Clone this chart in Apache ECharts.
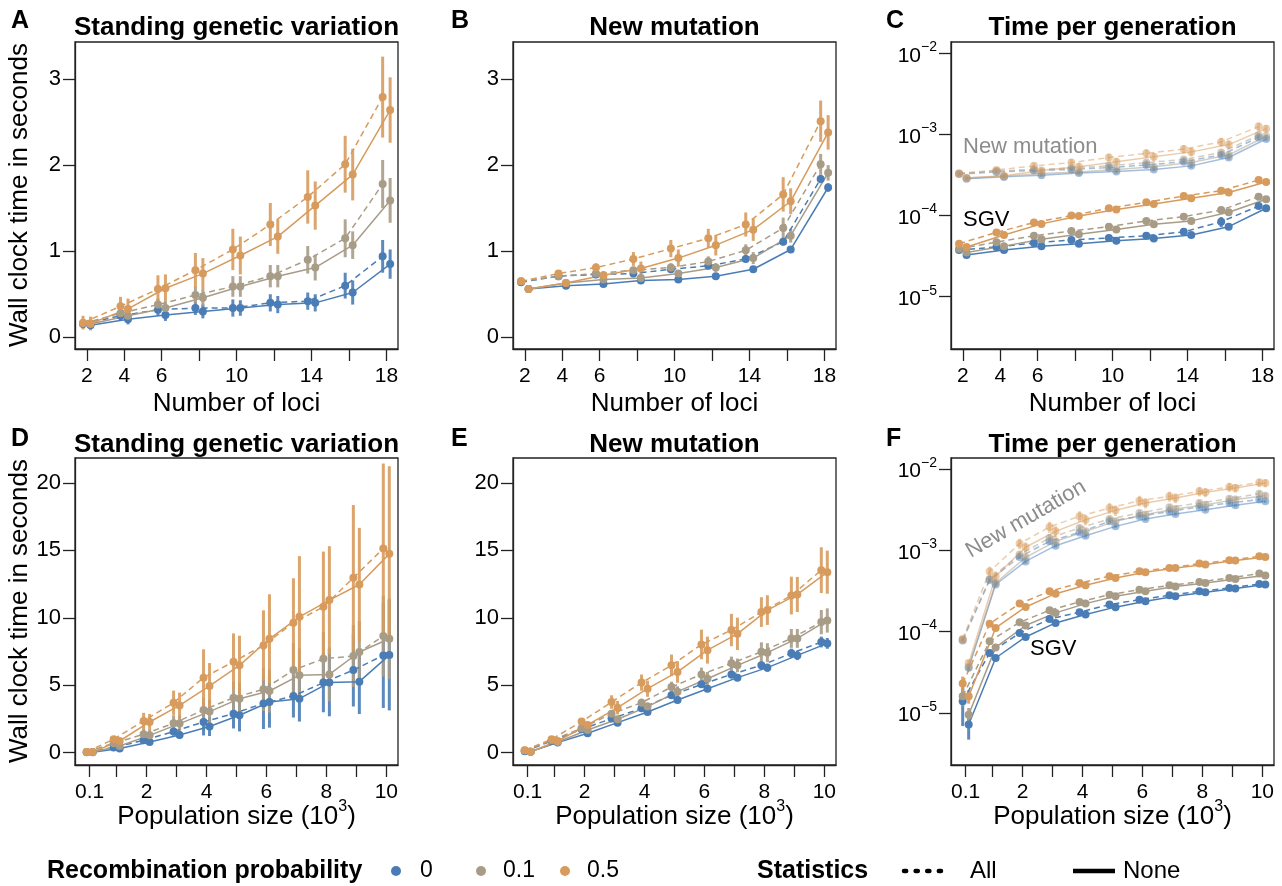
<!DOCTYPE html>
<html><head><meta charset="utf-8">
<script src="https://cdn.jsdelivr.net/npm/echarts@6/dist/echarts.min.js"></script>
<style>html,body{margin:0;padding:0;background:#fff}#chart{width:1282px;height:886px}</style>
</head><body><div id="chart"></div>
<script>
// ---------- categories / ticks ----------
const LOCI = [2,4,6,8,10,12,14,16,18];
const LOCI_TICKS = [2,4,6,8,10,12,14,16,18];
const LOCI_LABELS = [2,4,6,10,14,18];
const POP = [0.1,1,2,3,4,5,6,7,8,9,10];
const POP_TICKS = [0.1,1,2,3,4,5,6,7,8,9,10];
const POP_LABELS = [0.1,2,4,6,8,10];
const Y_TICKS_AB = [0,1,2,3];
const Y_TICKS_DE = [0,5,10,15,20];
const Y_TICKS_LOG = [1e-5,1e-4,1e-3,1e-2];
const RECOMB = ['0','0.1','0.5'];
const STATS = ['All','None'];
const TITLES = ['Standing genetic variation','New mutation','Time per generation','Standing genetic variation','New mutation','Time per generation'];
const LETTERS = ['A','B','C','D','E','F'];

// ---------- Panel A: SGV, number of loci ----------
const A_all_0  = [0.155,0.25,0.32,0.34,0.34,0.40,0.42,0.60,0.94];
const A_none_0 = [0.14,0.21,0.26,0.30,0.34,0.38,0.40,0.52,0.85];
const A_all_01 = [0.16,0.28,0.38,0.49,0.59,0.71,0.90,1.15,1.78];
const A_none_01= [0.155,0.25,0.34,0.46,0.59,0.71,0.81,1.07,1.59];
const A_all_05 = [0.17,0.36,0.56,0.78,1.02,1.31,1.63,2.01,2.79];
const A_none_05= [0.16,0.33,0.57,0.74,0.95,1.17,1.53,1.89,2.64];
const A_err_all_0  = [0.05,0.06,0.07,0.08,0.10,0.10,0.10,0.15,0.19];
const A_err_none_0 = [0.05,0.06,0.07,0.08,0.09,0.10,0.10,0.14,0.17];
const A_err_all_01 = [0.05,0.06,0.07,0.10,0.12,0.13,0.16,0.22,0.28];
const A_err_none_01= [0.05,0.06,0.07,0.10,0.12,0.13,0.15,0.16,0.26];
const A_err_all_05 = [0.08,0.11,0.16,0.20,0.24,0.25,0.31,0.33,0.47];
const A_err_none_05= [0.08,0.12,0.16,0.18,0.22,0.20,0.28,0.30,0.38];

// ---------- Panel B: new mutation, number of loci ----------
const B_all_0  = [0.64,0.71,0.73,0.74,0.79,0.83,0.91,1.11,1.84];
const B_none_0 = [0.56,0.60,0.62,0.66,0.67,0.71,0.79,1.02,1.74];
const B_all_01 = [0.65,0.71,0.74,0.78,0.81,0.88,1.01,1.27,2.01];
const B_none_01= [0.56,0.63,0.67,0.69,0.74,0.81,0.92,1.18,1.91];
const B_all_05 = [0.65,0.74,0.81,0.91,1.03,1.15,1.31,1.66,2.51];
const B_none_05= [0.56,0.63,0.72,0.80,0.92,1.07,1.25,1.58,2.38];
const B_err_all_0  = [0.02,0.02,0.02,0.03,0.03,0.03,0.04,0.04,0.05];
const B_err_none_0 = [0.02,0.02,0.02,0.02,0.02,0.02,0.03,0.03,0.05];
const B_err_all_01 = [0.02,0.03,0.04,0.04,0.05,0.06,0.07,0.12,0.12];
const B_err_none_01= [0.02,0.02,0.03,0.03,0.04,0.05,0.07,0.08,0.09];
const B_err_all_05 = [0.02,0.04,0.05,0.08,0.10,0.11,0.14,0.20,0.24];
const B_err_none_05= [0.02,0.03,0.05,0.08,0.10,0.12,0.13,0.15,0.20];

// ---------- Panel C: time per generation, number of loci ----------
const C_sgv_all_0  = [3.76e-5,4.1e-5,4.6e-5,5.0e-5,5.3e-5,5.65e-5,6.3e-5,8.4e-5,1.31e-4];
const C_sgv_none_0 = [3.26e-5,3.76e-5,4.2e-5,4.5e-5,4.9e-5,5.2e-5,5.75e-5,7.3e-5,1.23e-4];
const C_sgv_all_01 = [3.9e-5,4.7e-5,5.65e-5,6.45e-5,7.3e-5,8.6e-5,9.7e-5,1.17e-4,1.71e-4];
const C_sgv_none_01= [3.5e-5,4.2e-5,5.1e-5,5.9e-5,6.75e-5,7.8e-5,8.6e-5,1.1e-4,1.59e-4];
const C_sgv_all_05 = [4.5e-5,6.2e-5,8.2e-5,1.0e-4,1.23e-4,1.46e-4,1.74e-4,2.03e-4,2.74e-4];
const C_sgv_none_05= [4.1e-5,5.75e-5,7.9e-5,9.9e-5,1.19e-4,1.39e-4,1.63e-4,1.93e-4,2.6e-4];
const C_sgv_err_all_0  = [2e-6,3e-6,3e-6,3e-6,3e-6,3e-6,4e-6,1.2e-5,8e-6];
const C_sgv_err_none_0 = [2e-6,2e-6,3e-6,3e-6,3e-6,3e-6,3e-6,5e-6,7e-6];
const C_sgv_err_all_01 = [2e-6,3e-6,4e-6,4e-6,5e-6,5e-6,6e-6,8e-6,1.1e-5];
const C_sgv_err_none_01= [2e-6,3e-6,3e-6,4e-6,4e-6,5e-6,5e-6,7e-6,1e-5];
const C_sgv_err_all_05 = [3e-6,5e-6,6e-6,7e-6,8e-6,9e-6,1.1e-5,1.3e-5,1.6e-5];
const C_sgv_err_none_05= [3e-6,4e-6,5e-6,6e-6,7e-6,8e-6,1e-5,1.2e-5,1.5e-5];
const C_nm_all_0  = [3.25e-4,3.45e-4,3.6e-4,3.7e-4,3.9e-4,4.2e-4,4.6e-4,5.6e-4,9.2e-4];
const C_nm_none_0 = [2.85e-4,3.0e-4,3.15e-4,3.35e-4,3.5e-4,3.7e-4,4.1e-4,5.2e-4,8.8e-4];
const C_nm_all_01 = [3.3e-4,3.55e-4,3.7e-4,3.85e-4,4.1e-4,4.5e-4,4.9e-4,6.0e-4,9.8e-4];
const C_nm_none_01= [2.9e-4,3.05e-4,3.3e-4,3.45e-4,3.7e-4,4.0e-4,4.5e-4,5.6e-4,9.5e-4];
const C_nm_all_05 = [3.3e-4,3.65e-4,4.1e-4,4.5e-4,5.2e-4,5.85e-4,6.6e-4,8.1e-4,1.25e-3];
const C_nm_none_05= [2.9e-4,3.1e-4,3.6e-4,4.0e-4,4.6e-4,5.3e-4,6.1e-4,7.5e-4,1.18e-3];
const C_nm_err_all_0  = [1.5e-5,1.5e-5,2e-5,2e-5,2.5e-5,3e-5,3e-5,4e-5,6e-5];
const C_nm_err_none_0 = [1.2e-5,1.2e-5,1.5e-5,1.5e-5,2e-5,2e-5,2.5e-5,3e-5,5e-5];
const C_nm_err_all_01 = [1.5e-5,2e-5,2e-5,2.5e-5,3e-5,3.5e-5,4e-5,5e-5,7e-5];
const C_nm_err_none_01= [1.2e-5,1.5e-5,1.5e-5,2e-5,2e-5,2.5e-5,3e-5,4e-5,6e-5];
const C_nm_err_all_05 = [2e-5,3e-5,4e-5,5e-5,6e-5,7e-5,8e-5,1e-4,1.5e-4];
const C_nm_err_none_05= [1.5e-5,2.5e-5,3.5e-5,4.5e-5,5.5e-5,6.5e-5,7.5e-5,9e-5,1.3e-4];

// ---------- Panel D: SGV, population size ----------
const D_all_0  = [0.03,0.37,0.91,1.56,2.27,2.89,3.65,4.20,5.19,6.12,7.21];
const D_none_0 = [0.03,0.30,0.79,1.31,1.93,2.77,3.75,4.00,5.19,5.26,7.23];
const D_all_01 = [0.05,0.69,1.36,2.17,3.16,4.07,4.69,6.12,6.96,7.16,8.64];
const D_none_01= [0.05,0.49,1.28,2.15,3.04,4.00,4.57,5.73,5.80,7.46,8.44];
const D_all_05 = [0.05,0.99,2.35,3.70,5.56,6.74,7.95,9.63,10.81,12.96,15.14];
const D_none_05= [0.05,0.86,2.27,3.50,4.94,6.47,8.44,10.07,11.31,12.47,14.74];
const D_err_all_0  = [0.02,0.10,0.20,0.30,1.00,1.10,1.90,1.60,2.20,2.70,3.90];
const D_err_none_0 = [0.02,0.10,0.20,0.30,0.70,1.20,1.90,1.70,2.50,2.40,4.10];
const D_err_all_01 = [0.02,0.15,0.40,0.60,0.90,1.20,1.60,2.00,2.00,2.30,3.00];
const D_err_none_01= [0.02,0.15,0.40,0.60,0.90,1.20,1.60,2.00,2.00,2.30,3.00];
const D_err_all_05 = [0.02,0.20,0.60,0.90,2.10,2.10,2.60,3.30,4.10,5.40,6.30];
const D_err_none_05= [0.02,0.20,0.60,0.95,1.70,2.20,3.30,4.50,4.00,4.20,6.50];

// ---------- Panel E: new mutation, population size ----------
const E_all_0  = [0.10,0.86,1.73,2.52,3.28,4.25,5.06,5.80,6.47,7.36,8.20];
const E_none_0 = [0.07,0.74,1.43,2.22,3.01,3.90,4.74,5.56,6.30,7.21,8.10];
const E_all_01 = [0.15,0.91,1.80,2.89,3.70,4.86,5.80,6.62,7.48,8.47,9.68];
const E_none_01= [0.07,0.79,1.68,2.47,3.41,4.52,5.48,6.47,7.41,8.47,9.80];
const E_all_05 = [0.17,0.99,2.30,3.75,5.19,6.47,8.02,9.09,10.42,11.65,13.53];
const E_none_05= [0.07,0.86,2.05,3.33,4.74,5.98,7.60,8.81,10.57,11.73,13.38];
const E_err_all_0  = [0.02,0.08,0.10,0.15,0.20,0.25,0.25,0.30,0.30,0.35,0.40];
const E_err_none_0 = [0.02,0.08,0.10,0.12,0.15,0.20,0.20,0.25,0.30,0.35,0.40];
const E_err_all_01 = [0.02,0.10,0.15,0.20,0.30,0.40,0.50,0.50,0.70,0.70,0.90];
const E_err_none_01= [0.02,0.10,0.15,0.20,0.30,0.40,0.50,0.50,0.70,0.70,0.90];
const E_err_all_05 = [0.03,0.15,0.25,0.50,0.60,0.80,1.10,1.20,1.10,1.40,1.70];
const E_err_none_05= [0.03,0.15,0.25,0.50,0.60,0.80,1.00,1.20,1.10,1.30,1.60];

// ---------- Panel F: time per generation, population size ----------
const F_sgv_all_0  = [1.39e-5,5.47e-5,9.6e-5,1.43e-4,1.73e-4,2.15e-4,2.47e-4,2.8e-4,3.13e-4,3.44e-4,3.85e-4];
const F_sgv_none_0 = [7.2e-6,4.74e-5,8.6e-5,1.28e-4,1.62e-4,2.0e-4,2.36e-4,2.72e-4,3.05e-4,3.38e-4,3.79e-4];
const F_sgv_all_01 = [1.6e-5,7.6e-5,1.3e-4,1.83e-4,2.32e-4,2.85e-4,3.28e-4,3.71e-4,4.08e-4,4.57e-4,5.17e-4];
const F_sgv_none_01= [9.5e-6,6.4e-5,1.19e-4,1.7e-4,2.21e-4,2.72e-4,3.13e-4,3.6e-4,3.96e-4,4.45e-4,4.89e-4];
const F_sgv_all_05 = [2.3e-5,1.25e-4,2.21e-4,3.13e-4,3.96e-4,4.79e-4,5.52e-4,6.07e-4,6.86e-4,7.53e-4,8.43e-4];
const F_sgv_none_05= [1.6e-5,1.11e-4,2.01e-4,2.93e-4,3.71e-4,4.57e-4,5.37e-4,6.07e-4,6.67e-4,7.47e-4,8.28e-4];
const F_sgv_err_all_0  = [7e-6,3e-6,4e-6,5e-6,6e-6,7e-6,7e-6,8e-6,9e-6,9e-6,1e-5];
const F_sgv_err_none_0 = [2.5e-6,3e-6,3e-6,4e-6,5e-6,6e-6,6e-6,7e-6,8e-6,8e-6,9e-6];
const F_sgv_err_all_01 = [4e-6,4e-6,5e-6,6e-6,7e-6,8e-6,9e-6,1e-5,1.1e-5,1.2e-5,1.3e-5];
const F_sgv_err_none_01= [2e-6,4e-6,5e-6,6e-6,7e-6,8e-6,9e-6,1e-5,1.1e-5,1.2e-5,1.3e-5];
const F_sgv_err_all_05 = [5e-6,8e-6,1e-5,1.2e-5,1.5e-5,1.7e-5,2e-5,2.2e-5,2.5e-5,2.8e-5,3e-5];
const F_sgv_err_none_05= [3e-6,7e-6,1e-5,1.2e-5,1.5e-5,1.7e-5,2e-5,2.2e-5,2.5e-5,2.8e-5,3e-5];
const F_nm_all_0  = [7.8e-5,4.3e-4,8.3e-4,1.29e-3,1.66e-3,2.27e-3,2.62e-3,3.0e-3,3.41e-3,3.82e-3,4.2e-3];
const F_nm_none_0 = [3.6e-5,3.8e-4,7.3e-4,1.14e-3,1.51e-3,1.97e-3,2.43e-3,2.8e-3,3.16e-3,3.57e-3,4.0e-3];
const F_nm_all_01 = [8.0e-5,4.45e-4,8.85e-4,1.42e-3,1.88e-3,2.43e-3,2.87e-3,3.38e-3,3.82e-3,4.31e-3,4.97e-3];
const F_nm_none_01= [3.7e-5,3.96e-4,8.2e-4,1.29e-3,1.71e-3,2.27e-3,2.75e-3,3.22e-3,3.64e-3,4.2e-3,4.69e-3];
const F_nm_all_05 = [8.1e-5,5.5e-4,1.21e-3,1.94e-3,2.62e-3,3.31e-3,4.08e-3,4.61e-3,5.31e-3,6.01e-3,6.8e-3];
const F_nm_none_05= [4.1e-5,4.8e-4,1.09e-3,1.71e-3,2.38e-3,3.1e-3,3.82e-3,4.4e-3,5.16e-3,5.83e-3,6.7e-3];
const F_nm_err_all_0  = [4e-6,2.5e-5,5e-5,8e-5,1e-4,1.3e-4,1.5e-4,1.7e-4,1.9e-4,2.1e-4,2.3e-4];
const F_nm_err_none_0 = [3e-6,2e-5,4e-5,6e-5,8e-5,1e-4,1.2e-4,1.4e-4,1.6e-4,1.8e-4,2e-4];
const F_nm_err_all_01 = [4e-6,4e-5,8e-5,1.3e-4,1.7e-4,2.2e-4,2.6e-4,3e-4,3.4e-4,3.8e-4,4.4e-4];
const F_nm_err_none_01= [3e-6,3.5e-5,7e-5,1.1e-4,1.5e-4,2e-4,2.4e-4,2.8e-4,3.2e-4,3.6e-4,4e-4];
const F_nm_err_all_05 = [5e-6,8e-5,1.8e-4,3e-4,4e-4,5e-4,6e-4,6.5e-4,7e-4,7.5e-4,8e-4];
const F_nm_err_none_05= [4e-6,7e-5,1.6e-4,2.6e-4,3.5e-4,4.5e-4,5.5e-4,6e-4,6.5e-4,7e-4,7.5e-4];

// ---------- styling / layout ----------
const FONT = '"Liberation Sans", Arial, Helvetica, sans-serif';
const COL = ['#4A7DB5', '#A89C87', '#D79B5D'];
const AX = '#222';
const GW = 323, GH = 307;
const GRIDS = [[75,42],[513,42],[951,42],[75,458],[513,458],[951,458]];

const panels = [
  {x: LOCI, d: 0.2, xr: [1.37,18.62], xt: LOCI_TICKS, xl: LOCI_LABELS, log: false, yr: [-0.136,3.43], yt: Y_TICKS_AB,
   sets: [{alpha: 1, groups: [[A_all_0,A_err_all_0,A_none_0,A_err_none_0],[A_all_01,A_err_all_01,A_none_01,A_err_none_01],[A_all_05,A_err_all_05,A_none_05,A_err_none_05]]}]},
  {x: LOCI, d: 0.2, xr: [1.37,18.62], xt: LOCI_TICKS, xl: LOCI_LABELS, log: false, yr: [-0.136,3.43], yt: Y_TICKS_AB,
   sets: [{alpha: 1, groups: [[B_all_0,B_err_all_0,B_none_0,B_err_none_0],[B_all_01,B_err_all_01,B_none_01,B_err_none_01],[B_all_05,B_err_all_05,B_none_05,B_err_none_05]]}]},
  {x: LOCI, d: 0.2, xr: [1.37,18.62], xt: LOCI_TICKS, xl: LOCI_LABELS, log: true, yr: [Math.pow(10,-5.645), Math.pow(10,-1.86)], yt: Y_TICKS_LOG,
   sets: [{alpha: 0.5, groups: [[C_nm_all_0,C_nm_err_all_0,C_nm_none_0,C_nm_err_none_0],[C_nm_all_01,C_nm_err_all_01,C_nm_none_01,C_nm_err_none_01],[C_nm_all_05,C_nm_err_all_05,C_nm_none_05,C_nm_err_none_05]]},
          {alpha: 1, groups: [[C_sgv_all_0,C_sgv_err_all_0,C_sgv_none_0,C_sgv_err_none_0],[C_sgv_all_01,C_sgv_err_all_01,C_sgv_none_01,C_sgv_err_none_01],[C_sgv_all_05,C_sgv_err_all_05,C_sgv_none_05,C_sgv_err_none_05]]}]},
  {x: POP, d: 0.1, xr: [-0.39,10.39], xt: POP_TICKS, xl: POP_LABELS, log: false, yr: [-0.92,21.85], yt: Y_TICKS_DE,
   sets: [{alpha: 1, groups: [[D_all_0,D_err_all_0,D_none_0,D_err_none_0],[D_all_01,D_err_all_01,D_none_01,D_err_none_01],[D_all_05,D_err_all_05,D_none_05,D_err_none_05]]}]},
  {x: POP, d: 0.1, xr: [-0.39,10.39], xt: POP_TICKS, xl: POP_LABELS, log: false, yr: [-0.92,21.85], yt: Y_TICKS_DE,
   sets: [{alpha: 1, groups: [[E_all_0,E_err_all_0,E_none_0,E_err_none_0],[E_all_01,E_err_all_01,E_none_01,E_err_none_01],[E_all_05,E_err_all_05,E_none_05,E_err_none_05]]}]},
  {x: POP, d: 0.1, xr: [-0.39,10.39], xt: POP_TICKS, xl: POP_LABELS, log: true, yr: [Math.pow(10,-5.64), Math.pow(10,-1.865)], yt: Y_TICKS_LOG,
   sets: [{alpha: 0.5, groups: [[F_nm_all_0,F_nm_err_all_0,F_nm_none_0,F_nm_err_none_0],[F_nm_all_01,F_nm_err_all_01,F_nm_none_01,F_nm_err_none_01],[F_nm_all_05,F_nm_err_all_05,F_nm_none_05,F_nm_err_none_05]]},
          {alpha: 1, groups: [[F_sgv_all_0,F_sgv_err_all_0,F_sgv_none_0,F_sgv_err_none_0],[F_sgv_all_01,F_sgv_err_all_01,F_sgv_none_01,F_sgv_err_none_01],[F_sgv_all_05,F_sgv_err_all_05,F_sgv_none_05,F_sgv_err_none_05]]}]}
];

const grid = GRIDS.map(g => ({left: g[0], top: g[1], width: GW, height: GH, show: true, borderColor: AX, borderWidth: 1.3, backgroundColor: 'transparent', containLabel: false}));

const tickStyle = {color: AX, width: 1.3};
const xAxis = panels.map((p, i) => ({
  type: 'value', gridIndex: i, min: p.xr[0], max: p.xr[1],
  axisLine: {show: true, onZero: false, lineStyle: tickStyle},
  axisTick: {show: true, inside: false, length: 12, lineStyle: tickStyle, customValues: p.xt},
  axisLabel: {show: true, customValues: p.xl, fontSize: 21, color: '#000', fontFamily: FONT, margin: 17,
              formatter: v => String(v)},
  splitLine: {show: false}
}));

const supRich = {
  b: {fontSize: 21, fontFamily: FONT, color: '#000', padding: [5,0,0,0]},
  s: {fontSize: 14, fontFamily: FONT, color: '#000', verticalAlign: 'top'}
};
const yAxis = panels.map((p, i) => {
  const base = {
    gridIndex: i, min: p.yr[0], max: p.yr[1],
    axisLine: {show: true, onZero: false, lineStyle: tickStyle},
    axisTick: {show: true, inside: false, length: 12, lineStyle: tickStyle, customValues: p.yt},
    splitLine: {show: false}
  };
  if (p.log) {
    return Object.assign(base, {type: 'log', logBase: 10,
      axisLabel: {show: true, customValues: p.yt, margin: 14, color: '#000',
        formatter: v => '{b|10}{s|\u2212' + Math.round(-Math.log10(v)) + '}', rich: supRich}});
  }
  return Object.assign(base, {type: 'value',
    axisLabel: {show: true, customValues: p.yt, fontSize: 22, color: '#000', fontFamily: FONT, margin: 14}});
});

function barRenderer(color, alpha) {
  return function (params, api) {
    const p1 = api.coord([api.value(0), api.value(1)]);
    const p2 = api.coord([api.value(0), api.value(2)]);
    return {type: 'line', shape: {x1: p1[0], y1: p1[1], x2: p2[0], y2: p2[1]},
            style: {stroke: color, lineWidth: 3, opacity: alpha * 0.9}};
  };
}

const series = [];
panels.forEach((p, pi) => {
  p.sets.forEach(set => {
    set.groups.forEach((g, gi) => {
      const color = COL[gi];
      const parts = [[g[0], g[1], -p.d, [6,4], STATS[0]], [g[2], g[3], p.d, 'solid', STATS[1]]];
      parts.forEach(([vals, errs, off, dash, stat]) => {
        series.push({
          type: 'custom', name: RECOMB[gi] + ' ' + stat, xAxisIndex: pi, yAxisIndex: pi,
          renderItem: barRenderer(color, set.alpha), silent: true, animation: false,
          encode: {x: 0, y: [1, 2]},
          data: p.x.map((x, k) => {
            const lo = p.log ? Math.max(vals[k] - errs[k], vals[k] * 0.05) : vals[k] - errs[k];
            return [x + off, lo, vals[k] + errs[k]];
          })
        });
        series.push({
          type: 'line', name: RECOMB[gi] + ' ' + stat, xAxisIndex: pi, yAxisIndex: pi,
          data: p.x.map((x, k) => [x + off, vals[k]]),
          symbol: 'circle', symbolSize: 8, showSymbol: true, silent: true, animation: false,
          lineStyle: {color: color, width: 1.5, type: dash, opacity: set.alpha},
          itemStyle: {color: color, opacity: set.alpha}
        });
      });
    });
  });
});

// ---------- texts ----------
const graphic = [];
GRIDS.forEach((g, i) => {
  const rowTitleY = i < 3 ? 28 : 445;
  graphic.push({type: 'text', x: g[0] + GW / 2, y: rowTitleY,
    style: {text: TITLES[i], font: 'bold 26px ' + FONT, fill: '#000', align: 'center', verticalAlign: 'middle'}});
  const lx = [11, 451, 886][i % 3];
  graphic.push({type: 'text', x: lx, y: i < 3 ? 21 : 439,
    style: {text: LETTERS[i], font: 'bold 25px ' + FONT, fill: '#000', align: 'left', verticalAlign: 'middle'}});
  if (i < 3) {
    graphic.push({type: 'text', x: g[0] + GW / 2, y: 404,
      style: {text: 'Number of loci', font: '26px ' + FONT, fill: '#000', align: 'center', verticalAlign: 'middle'}});
  } else {
    graphic.push({type: 'text', x: g[0] + GW / 2, y: 814,
      style: {text: '{b|Population size (10}{s|3}{b|)}', align: 'center', verticalAlign: 'middle',
        rich: {b: {fontSize: 26, fontFamily: FONT, color: '#000', padding: [5,0,0,0]},
               s: {fontSize: 16, fontFamily: FONT, color: '#000', verticalAlign: 'top'}}}});
  }
});
[195, 611].forEach(cy => {
  graphic.push({type: 'text', x: 20, y: cy, rotation: Math.PI / 2,
    style: {text: 'Wall clock time in seconds', font: '26px ' + FONT, fill: '#000', align: 'center', verticalAlign: 'middle'}});
});
// annotations
graphic.push({type: 'text', x: 963, y: 147, style: {text: 'New mutation', font: '22px ' + FONT, fill: '#8C8C8C', align: 'left', verticalAlign: 'middle'}});
graphic.push({type: 'text', x: 963, y: 220, style: {text: 'SGV', font: '22px ' + FONT, fill: '#000', align: 'left', verticalAlign: 'middle'}});
graphic.push({type: 'text', x: 1026, y: 519, rotation: 30 * Math.PI / 180,
  style: {text: 'New mutation', font: '22px ' + FONT, fill: '#8C8C8C', align: 'center', verticalAlign: 'middle'}});
graphic.push({type: 'text', x: 1030, y: 649, style: {text: 'SGV', font: '22px ' + FONT, fill: '#000', align: 'left', verticalAlign: 'middle'}});

// legend
const LY = 871;
graphic.push({type: 'text', x: 47, y: LY, style: {text: 'Recombination probability', font: 'bold 25px ' + FONT, fill: '#000', align: 'left', verticalAlign: 'middle'}});
[[396, 420], [481, 503], [565, 587]].forEach((pos, k) => {
  graphic.push({type: 'circle', shape: {cx: pos[0], cy: LY, r: 5}, style: {fill: COL[k]}});
  graphic.push({type: 'text', x: pos[1], y: LY, style: {text: RECOMB[k], font: '23px ' + FONT, fill: '#000', align: 'left', verticalAlign: 'middle'}});
});
graphic.push({type: 'text', x: 757, y: LY, style: {text: 'Statistics', font: 'bold 25px ' + FONT, fill: '#000', align: 'left', verticalAlign: 'middle'}});
graphic.push({type: 'line', shape: {x1: 904, y1: LY, x2: 945, y2: LY}, style: {stroke: '#000', lineWidth: 4.5, lineDash: [2.2, 9.4], lineCap: 'round'}});
graphic.push({type: 'text', x: 970, y: LY, style: {text: STATS[0], font: '24px ' + FONT, fill: '#000', align: 'left', verticalAlign: 'middle'}});
graphic.push({type: 'line', shape: {x1: 1073, y1: LY, x2: 1115, y2: LY}, style: {stroke: '#000', lineWidth: 4.5}});
graphic.push({type: 'text', x: 1123, y: LY, style: {text: STATS[1], font: '24px ' + FONT, fill: '#000', align: 'left', verticalAlign: 'middle'}});

const chart = echarts.init(document.getElementById('chart'), null, {renderer: 'canvas'});
chart.setOption({
  animation: false,
  backgroundColor: '#fff',
  textStyle: {fontFamily: FONT},
  grid: grid, xAxis: xAxis, yAxis: yAxis, series: series, graphic: graphic
});
</script></body></html>
